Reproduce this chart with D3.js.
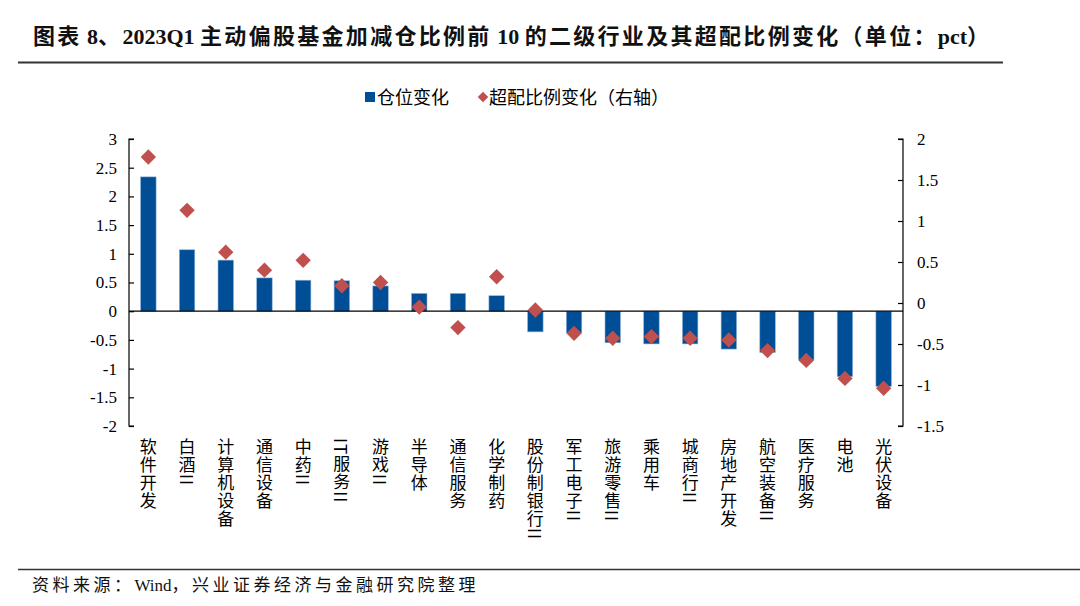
<!DOCTYPE html>
<html><head><meta charset="utf-8">
<script src="https://cdn.jsdelivr.net/npm/d3@7"></script>
<style>body{margin:0;background:#fff}svg{display:block}</style>
</head><body>
<script>
const categories = ["软件开发","白酒II","计算机设备","通信设备","中药II","IT服务II","游戏II","半导体","通信服务","化学制药","股份制银行II","军工电子II","旅游零售II","乘用车","城商行II","房地产开发","航空装备II","医疗服务","电池","光伏设备"];
const positionChange = [2.34,1.07,0.89,0.58,0.54,0.53,0.44,0.31,0.31,0.27,-0.36,-0.38,-0.55,-0.57,-0.57,-0.66,-0.72,-0.85,-1.14,-1.31];
const overweightChange = [1.78,1.13,0.62,0.40,0.52,0.21,0.25,-0.05,-0.30,0.32,-0.085,-0.37,-0.43,-0.41,-0.43,-0.45,-0.58,-0.70,-0.92,-1.04];
const leftTicks = [3,2.5,2,1.5,1,0.5,0,-0.5,-1,-1.5,-2];
const rightTicks = [2,1.5,1,0.5,0,-0.5,-1,-1.5];
const title = "图表 8、2023Q1 主动偏股基金加减仓比例前 10 的二级行业及其超配比例变化（单位：pct）";
const source = "资料来源：Wind，兴业证券经济与金融研究院整理";
const legendLabels = ["仓位变化","超配比例变化（右轴）"];

const W=1080,H=606;
const svg=d3.select("body").append("svg").attr("width",W).attr("height",H);
const serif="'Liberation Serif','Times New Roman','Noto Sans CJK SC',serif";
const sans="'Noto Sans CJK SC','Noto Sans',sans-serif";
const blue="#004E96", red="#C0504D";
const fmt=d=>String(d);

function mixedText(sel, str, cjkSpacing){
  str.split(/([A-Za-z0-9 ]+)/).filter(s=>s.length).forEach(s=>{
    const latin=/^[A-Za-z0-9 ]+$/.test(s);
    sel.append("tspan").attr("letter-spacing",latin?0:cjkSpacing).text(latin?s.replace(/ /g,"\u00A0"):s);
  });
}

const t=svg.append("text").attr("x",33).attr("y",44).attr("font-family",serif).attr("font-weight","bold")
  .attr("font-size",22).attr("fill","#111");
mixedText(t,title,2.3);
svg.append("line").attr("x1",18).attr("x2",1003).attr("y1",62.5).attr("y2",62.5).attr("stroke","#333").attr("stroke-width",2);

const x=d3.scaleBand().domain(categories).range([129,903]).paddingInner(0.6).paddingOuter(0.3);
const yL=d3.scaleLinear().domain([-2,3]).range([426,139]);
const yR=d3.scaleLinear().domain([-1.5,2]).range([426,139]);

// bars
svg.append("g").selectAll("rect").data(categories).join("rect")
  .attr("x",d=>x(d)).attr("width",x.bandwidth())
  .attr("y",(d,i)=>yL(Math.max(0,positionChange[i])))
  .attr("height",(d,i)=>Math.abs(yL(positionChange[i])-yL(0)))
  .attr("fill",blue).attr("stroke","#8fb3dc").attr("stroke-width",0.6);

// zero line
svg.append("line").attr("x1",129).attr("x2",903).attr("y1",yL(0)).attr("y2",yL(0)).attr("stroke","#000").attr("stroke-width",1.3);

// axes
const axL=d3.axisLeft(yL).tickValues(leftTicks).tickSize(-5).tickPadding(12).tickFormat(fmt);
const gL=svg.append("g").attr("transform","translate(129,0)").call(axL);
const axR=d3.axisRight(yR).tickValues(rightTicks).tickSize(-5).tickPadding(14).tickFormat(fmt);
const gR=svg.append("g").attr("transform","translate(903,0)").call(axR);
[gL,gR].forEach(g=>{
  g.selectAll("path").attr("stroke","#000").attr("stroke-width",1.2);
  g.selectAll("line").attr("stroke","#000").attr("stroke-width",1.2);
  g.selectAll("text").attr("font-family",serif).attr("font-size",17).attr("fill","#000");
});
gL.select(".domain").attr("d","M5,139H0V426H5");
gR.select(".domain").attr("d","M-5,139H0V426H-5");

// diamonds
const sym=d3.symbol().type(d3.symbolDiamond2).size(150);
svg.append("g").selectAll("path").data(categories).join("path")
  .attr("d",sym)
  .attr("transform",(d,i)=>`translate(${x(d)+x.bandwidth()/2},${yR(overweightChange[i])})`)
  .attr("fill",red);

// x labels vertical
svg.append("g").selectAll("text").data(categories).join("text")
  .attr("x",d=>x(d)+x.bandwidth()/2).attr("y",438)
  .attr("font-family",sans).attr("font-size",17).attr("letter-spacing",1).attr("fill","#000")
  .style("writing-mode","vertical-rl").style("text-orientation","mixed")
  .attr("text-anchor","start")
  .text(d=>d);

// legend
const lg=svg.append("g");
lg.append("rect").attr("x",365).attr("y",92).attr("width",10).attr("height",10).attr("fill",blue);
lg.append("text").attr("x",377).attr("y",104).attr("font-family",sans).attr("font-size",18).text(legendLabels[0]);
lg.append("path").attr("d",d3.symbol().type(d3.symbolDiamond2).size(70)).attr("transform","translate(483,97)").attr("fill",red);
lg.append("text").attr("x",489).attr("y",104).attr("font-family",sans).attr("font-size",18).text(legendLabels[1]);

// footer
svg.append("line").attr("x1",18).attr("x2",1080).attr("y1",569.5).attr("y2",569.5).attr("stroke","#333").attr("stroke-width",1.5);
const f=svg.append("text").attr("x",32).attr("y",591).attr("font-family",serif).attr("font-size",17).attr("fill","#111");
mixedText(f,source,3.5);
</script>
</body></html>
